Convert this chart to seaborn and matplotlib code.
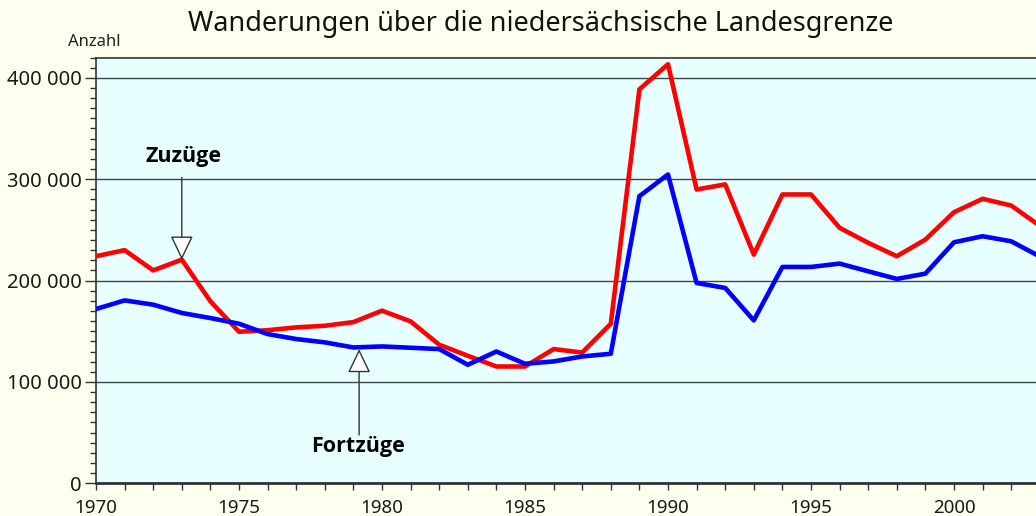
import numpy as np
import pandas as pd
import matplotlib
matplotlib.use('Agg')
import matplotlib.pyplot as plt
import matplotlib.ticker as mticker
import seaborn as sns

# Jahre 1970-2003
jahre = list(range(1970, 2004))

# Zuzüge (rot)
zuzuege = [224000, 230000, 210000, 220600, 179500, 149500, 151000, 153800, 155400, 159000,
           170300, 159700, 136700, 125800, 115200, 115200, 132400, 129000, 157400, 388600,
           413300, 289800, 294800, 225600, 284900, 284900, 252000, 237200, 224000, 240400,
           267400, 280600, 274000, 254000]

# Fortzüge (blau)
fortzuege = [171900, 180400, 176200, 168000, 163000, 157400, 147200, 142300, 139000, 134000,
             135000, 133700, 132400, 116900, 130000, 117900, 120200, 125100, 127800, 283200,
             304600, 197600, 192700, 160700, 213400, 213400, 216700, 209100, 201600, 206800,
             237700, 243700, 238700, 223700]

df = pd.DataFrame({'Jahr': jahre, 'Zuzüge': zuzuege, 'Fortzüge': fortzuege})

sns.set_style('ticks')
plt.rcParams['font.family'] = ['Noto Sans', 'DejaVu Sans']

fig = plt.figure(figsize=(10.36, 5.16), dpi=100, facecolor='#FFFFF0')
ax = fig.add_axes([96 / 1036, 1 - 483.3 / 516, 1 - 96 / 1036, (483.3 - 57.5) / 516])
ax.set_facecolor('#E8FFFF')

# Gitterlinien
for v in [100000, 200000, 300000, 400000]:
    ax.axhline(v, color='#444444', lw=1.0, zorder=1)

sns.lineplot(data=df, x='Jahr', y='Zuzüge', color='#FF0000', lw=3.3, ax=ax, zorder=3)
sns.lineplot(data=df, x='Jahr', y='Fortzüge', color='#0000FF', lw=3.3, ax=ax, zorder=3)

ax.set_xlim(1970, 1970 + (1036 - 96) / 28.6)
ax.set_ylim(0, 420000)

ax.yaxis.set_major_locator(mticker.MultipleLocator(100000))
ax.yaxis.set_minor_locator(mticker.MultipleLocator(10000))
ax.yaxis.set_major_formatter(mticker.FuncFormatter(lambda v, p: f"{v:,.0f}".replace(',', ' ')))
ax.xaxis.set_major_locator(mticker.MultipleLocator(5))
ax.xaxis.set_minor_locator(mticker.MultipleLocator(1))

ax.tick_params(axis='y', which='major', length=8, width=1, color='#333333', labelsize=14.5, labelcolor='#1a1a1a', pad=2)
ax.tick_params(axis='y', which='minor', length=4, width=1, color='#333333')
ax.tick_params(axis='x', which='both', length=5, width=1, color='#333333', labelsize=13.5, labelcolor='#1a1a1a', pad=6)

for side in ['left', 'bottom', 'top']:
    ax.spines[side].set_color('#333333')
ax.spines['bottom'].set_linewidth(2)
ax.spines['left'].set_linewidth(1.2)
ax.spines['top'].set_linewidth(1.2)
ax.spines['right'].set_visible(False)

ax.set_xlabel('')
ax.set_ylabel('')

# Beschriftungen mit Pfeilen
pfeil = dict(arrowstyle='-|>,head_length=0.75,head_width=0.36', mutation_scale=20,
             fc='white', ec='#333333', lw=1.0, shrinkA=0, shrinkB=0)
fett = ['Open Sans', 'DejaVu Sans']
ax.annotate('', xy=(1973, 220600), xytext=(1973, 301700), arrowprops=pfeil, zorder=4)
ax.text(1973.05, 322600, 'Zuzüge', ha='center', va='center', fontsize=15.5,
        fontweight='bold', family=fett, color='black')
ax.annotate('', xy=(1979.2, 132400), xytext=(1979.2, 47700), arrowprops=pfeil, zorder=4)
ax.text(1979.15, 35900, 'Fortzüge', ha='center', va='center', fontsize=15.5,
        fontweight='bold', family=fett, color='black')

fig.text(541 / 1036, 1 - 24 / 516, 'Wanderungen über die niedersächsische Landesgrenze',
         ha='center', va='center', fontsize=19.5, color='#111111')
fig.text(94 / 1036, 1 - 42 / 516, 'Anzahl', ha='center', va='center', fontsize=12, color='#222222')

fig.savefig('out.png', dpi=100, facecolor=fig.get_facecolor())
